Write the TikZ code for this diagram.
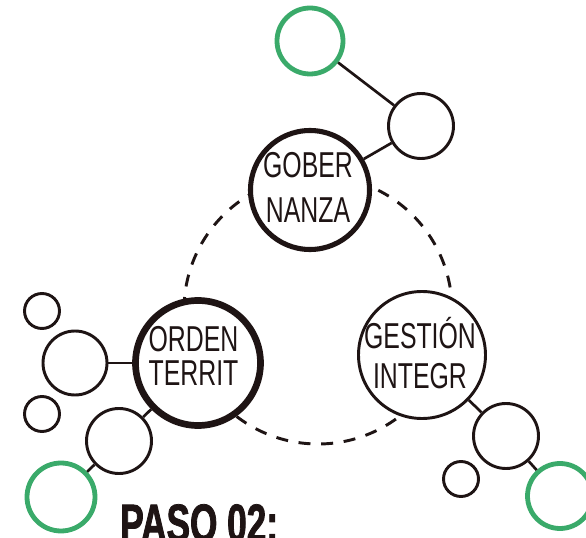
\documentclass[tikz,border=0pt]{standalone}
\usepackage{fontspec}
\usepackage{xcolor}
\usetikzlibrary{backgrounds}
\newfontfamily\thinfont[FakeStretch=0.69]{Liberation Sans}
\newfontfamily\pasofont[FakeStretch=0.66, BoldFeatures={FakeBold=1.5}]{Liberation Sans}
\definecolor{leaf}{RGB}{58,170,106}
\definecolor{ink}{RGB}{30,20,20}

\begin{document}
\begin{tikzpicture}[x=0.75pt, y=-0.75pt,
  bub/.style={circle, draw=ink, fill=white, line width=2.2pt, inner sep=0pt, minimum size=#1*1.5pt},
  hub/.style={bub=#1, line width=3.8pt},
  leafbub/.style={bub=#1, draw=leaf, line width=3.6pt},
  lbl/.style={align=center, inner sep=0pt, text=ink, font=\thinfont\fontsize{27}{#1}\selectfont},
  link/.style={draw=ink, line width=2pt},
  ring/.style={draw=ink, line width=2.2pt, dash pattern=on 9pt off 8pt}]
\useasboundingbox (0,0) rectangle (586,538);

\node (gob) [hub=59.5] at (310,190) {};
\node (ord) [hub=62.5, line width=5pt] at (198,363) {};
\node (ges) [bub=63.5] at (422,355) {};

\node (gobtop) [leafbub=33] at (310,41) {};
\node (gobmid) [bub=32.5] at (421,126) {};

\node (ordsma) [bub=17.5] at (42,311) {};
\node (ordmid) [bub=32] at (75,363) {};
\node (ordsmb) [bub=17.5] at (42,414) {};
\node (ordlow) [bub=32.5] at (119,441) {};
\node (ordleaf) [leafbub=34] at (61,497) {};

\node (gesmid) [bub=32.5] at (506,436) {};
\node (gessma) [bub=17.5] at (461,479) {};
\node (gesleaf) [leafbub=32.5] at (560,496) {};

\begin{scope}[on background layer]
\draw[ring] (318,310) circle[radius=100.5pt];
\end{scope}

\draw[link] (gobtop) -- (gobmid);
\draw[link] (gobmid) -- (gob);
\draw[link] (ordmid) -- (ord);
\draw[link] (ord) -- (ordlow);
\draw[link] (ordlow) -- (ordleaf);
\draw[link] (ges) -- (gesmid);
\draw[link] (gesmid) -- (gesleaf);

\node (gobtxt) [lbl=33.75pt] at (308,187) {GOBER\\NANZA};
\node (ordtxt) [lbl=25pt] at (193.5,356) {ORDEN\\TERRIT};
\node (gestxt) [lbl=30pt] at (420,353) {GESTIÓN\\INTEGR};

\node (paso) [anchor=north west, inner sep=0pt, text=ink, font=\pasofont\bfseries\fontsize{40}{44}\selectfont] at (120,504) {PASO 02:};
\end{tikzpicture}
\end{document}
